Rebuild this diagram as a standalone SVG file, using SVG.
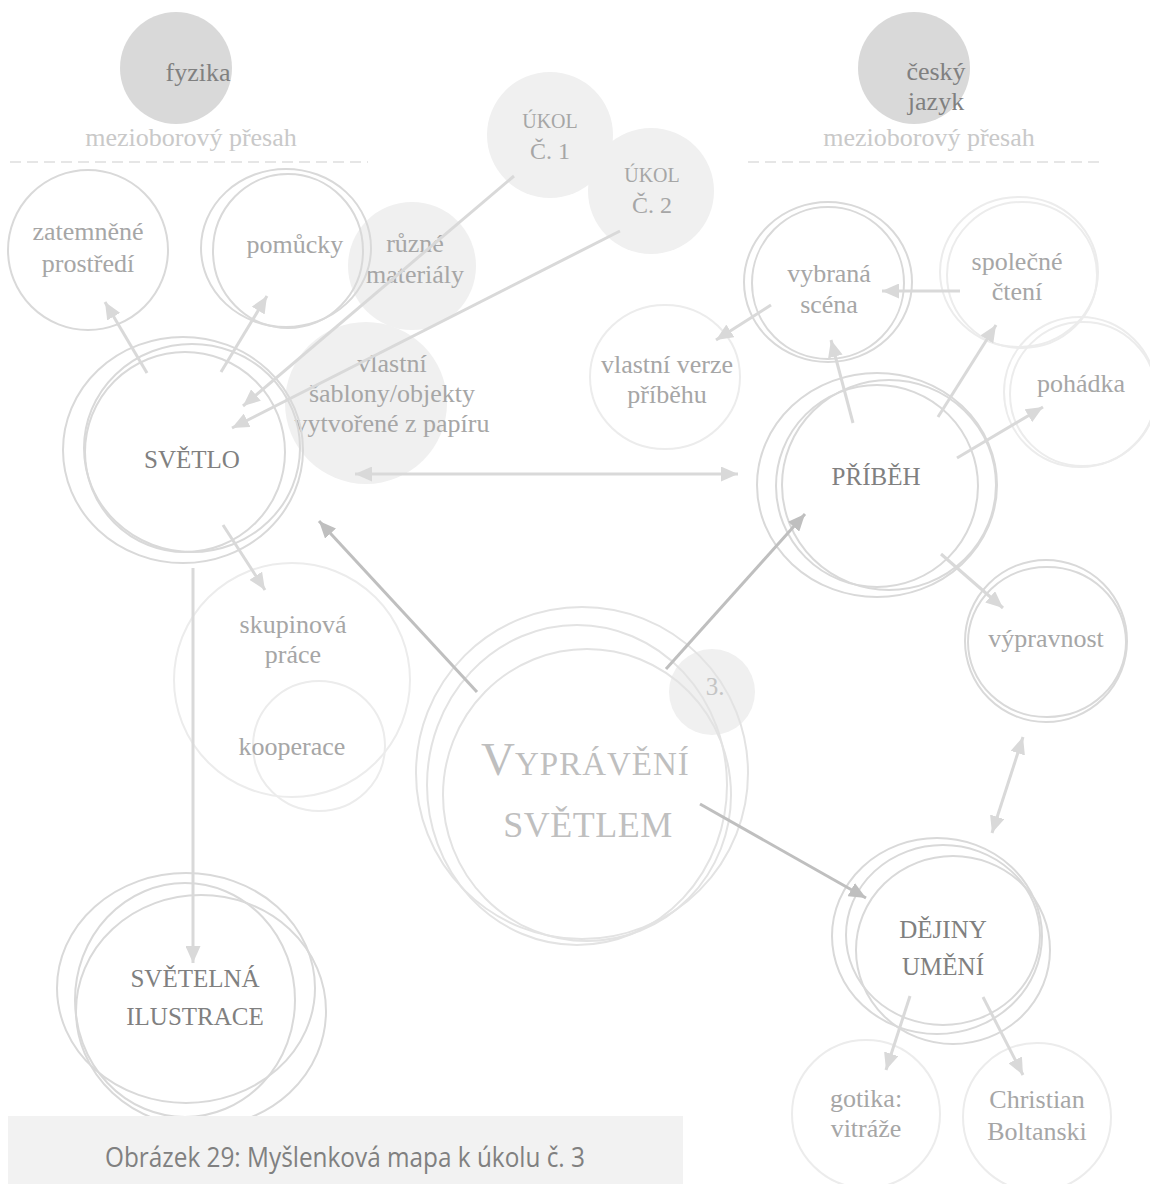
<svg xmlns="http://www.w3.org/2000/svg" width="1150" height="1184" viewBox="0 0 1150 1184">
<defs>
<style>
text{font-family:"Liberation Serif","Times New Roman",serif;text-anchor:middle}
.lbl{font-size:26px;fill:#a6a6a6}
.main{font-size:25px;fill:#808080}
.subj{font-size:26px;fill:#808080}
.mez{font-size:26px;fill:#c9c9c9}
.uk{font-size:20px;fill:#a6a6a6}
.ukn{font-size:24px;fill:#a6a6a6}
.o{fill:none;stroke:#d9d9d9;stroke-width:2}
.ol{fill:none;stroke:#ececec;stroke-width:2}
.oc{fill:none;stroke:#e3e3e3;stroke-width:2}
.fd{fill:#d9d9d9}
.fl{fill:#f0f0f0}
.dash{stroke:#e6e6e6;stroke-width:2;stroke-dasharray:11 6}
.a{stroke:#d9d9d9;stroke-width:3;fill:none;marker-end:url(#ah)}
.a2{stroke:#d9d9d9;stroke-width:3;fill:none;marker-end:url(#ah);marker-start:url(#ah)}
.ad{stroke:#bfbfbf;stroke-width:3;fill:none;marker-end:url(#ahd)}
</style>
<marker id="ah" markerUnits="userSpaceOnUse" markerWidth="17" markerHeight="15" refX="17" refY="7.5" orient="auto-start-reverse">
<path d="M0,0 L17,7.5 L0,15 z" fill="#d9d9d9"/>
</marker>
<marker id="ahd" markerUnits="userSpaceOnUse" markerWidth="17" markerHeight="15" refX="17" refY="7.5" orient="auto-start-reverse">
<path d="M0,0 L17,7.5 L0,15 z" fill="#bfbfbf"/>
</marker>
</defs>
<rect width="1150" height="1184" fill="#ffffff"/>

<!-- header -->
<g id="fyzika">
<circle class="fd" cx="176" cy="68" r="56"/>
<text class="subj" x="198" y="81">fyzika</text>
</g>
<g id="cesky-jazyk">
<circle class="fd" cx="914" cy="68" r="56"/>
<text class="subj" x="936" y="80">český</text>
<text class="subj" x="936" y="110">jazyk</text>
</g>
<g id="presah-left">
<text class="mez" x="191" y="146">mezioborový přesah</text>
<line class="dash" x1="10" y1="162" x2="368" y2="162"/>
</g>
<g id="presah-right">
<text class="mez" x="929" y="146">mezioborový přesah</text>
<line class="dash" x1="748" y1="162" x2="1105" y2="162"/>
</g>

<!-- filled nodes -->
<g id="ukol1">
<circle class="fl" cx="550" cy="135" r="63"/>
<text class="uk" x="550" y="128">ÚKOL</text>
<text class="ukn" x="550" y="159">Č. 1</text>
</g>
<g id="ukol2">
<circle class="fl" cx="651" cy="191" r="63"/>
<text class="uk" x="652" y="182">ÚKOL</text>
<text class="ukn" x="652" y="213">Č. 2</text>
</g>
<g id="ruzne-materialy">
<circle class="fl" cx="412" cy="266" r="64"/>
<text class="lbl" x="415" y="252">různé</text>
<text class="lbl" x="415" y="283">materiály</text>
</g>
<g id="sablony">
<circle class="fl" cx="366" cy="403" r="81"/>
<text class="lbl" x="392" y="372">vlastní</text>
<text class="lbl" x="392" y="402">šablony/objekty</text>
<text class="lbl" x="392" y="432">vytvořené z papíru</text>
</g>
<g id="ukol3">
<circle class="fl" cx="712" cy="692" r="43"/>
<text x="715" y="695" style="font-size:25px;fill:#c4c4c4">3.</text>
</g>

<!-- left side -->
<g id="zatemnene">
<circle class="o" cx="88" cy="250" r="80"/>
<text class="lbl" x="88" y="240">zatemněné</text>
<text class="lbl" x="88" y="272">prostředí</text>
</g>
<g id="pomucky">
<ellipse class="o" cx="286" cy="248" rx="85" ry="79"/>
<ellipse class="o" cx="288" cy="251" rx="75" ry="77"/>
<text class="lbl" x="295" y="253">pomůcky</text>
</g>
<g id="svetlo">
<ellipse class="o" cx="183" cy="450" rx="120" ry="113"/>
<ellipse class="o" cx="192" cy="448" rx="108" ry="104"/>
<ellipse class="o" cx="185" cy="452" rx="100" ry="100"/>
<text class="main" x="192" y="468">SVĚTLO</text>
</g>
<g id="skupinova">
<ellipse class="ol" cx="292" cy="680" rx="118" ry="117"/>
<text class="lbl" x="293" y="633">skupinová</text>
<text class="lbl" x="293" y="663">práce</text>
</g>
<g id="kooperace">
<ellipse class="ol" cx="319" cy="746" rx="66" ry="65"/>
<text class="lbl" x="292" y="755">kooperace</text>
</g>
<g id="svetelna-ilustrace">
<ellipse class="o" cx="186" cy="988" rx="129" ry="115"/>
<ellipse class="o" cx="201" cy="1011" rx="125" ry="116"/>
<ellipse class="o" cx="185" cy="1000" rx="110" ry="117"/>
<text class="main" x="195" y="987">SVĚTELNÁ</text>
<text class="main" x="195" y="1025">ILUSTRACE</text>
</g>

<!-- center -->
<g id="vypraveni">
<ellipse class="oc" cx="582" cy="773" rx="166" ry="166"/>
<ellipse class="oc" cx="577" cy="785" rx="150" ry="160"/>
<ellipse class="oc" cx="587" cy="795" rx="144" ry="146"/>
<text x="481" y="775" style="text-anchor:start;fill:#bfbfbf;font-size:33px;letter-spacing:1px"><tspan style="font-size:47px;letter-spacing:0">V</tspan>YPRÁVĚNÍ</text>
<text x="588" y="837" style="fill:#bfbfbf;font-size:36px;letter-spacing:0.5px">SVĚTLEM</text>
</g>

<!-- right side -->
<g id="vybrana-scena">
<ellipse class="o" cx="828" cy="282" rx="84" ry="80"/>
<ellipse class="o" cx="828" cy="283" rx="76" ry="76"/>
<text class="lbl" x="829" y="282">vybraná</text>
<text class="lbl" x="829" y="313">scéna</text>
</g>
<g id="spolecne-cteni">
<ellipse class="ol" cx="1019" cy="272" rx="79" ry="75"/>
<ellipse class="ol" cx="1022" cy="275" rx="75" ry="73"/>
<text class="lbl" x="1017" y="270">společné</text>
<text class="lbl" x="1017" y="300">čtení</text>
</g>
<g id="pohadka">
<ellipse class="ol" cx="1080" cy="392" rx="76" ry="75"/>
<ellipse class="ol" cx="1083" cy="394" rx="73" ry="72"/>
<text class="lbl" x="1081" y="392">pohádka</text>
</g>
<g id="vlastni-verze">
<ellipse class="ol" cx="665" cy="377" rx="75" ry="72"/>
<text class="lbl" x="667" y="373">vlastní verze</text>
<text class="lbl" x="667" y="403">příběhu</text>
</g>
<g id="pribeh">
<ellipse class="o" cx="877" cy="485" rx="120" ry="112"/>
<ellipse class="o" cx="877" cy="486" rx="101" ry="101"/>
<ellipse class="o" cx="889" cy="485" rx="107" ry="105"/>
<text class="main" x="876" y="485">PŘÍBĚH</text>
</g>
<g id="vypravnost">
<ellipse class="o" cx="1046" cy="641" rx="81" ry="81"/>
<ellipse class="o" cx="1047" cy="642" rx="79" ry="75"/>
<text class="lbl" x="1046" y="647">výpravnost</text>
</g>
<g id="dejiny-umeni">
<ellipse class="o" cx="937" cy="936" rx="105" ry="98"/>
<ellipse class="o" cx="943" cy="935" rx="97" ry="90"/>
<ellipse class="o" cx="953" cy="950" rx="97" ry="94"/>
<text class="main" x="943" y="938">DĚJINY</text>
<text class="main" x="943" y="975">UMĚNÍ</text>
</g>
<g id="gotika">
<circle class="ol" cx="866" cy="1114" r="74"/>
<text class="lbl" x="866" y="1107">gotika:</text>
<text class="lbl" x="866" y="1137">vitráže</text>
</g>
<g id="boltanski">
<circle class="ol" cx="1037" cy="1117" r="74"/>
<text class="lbl" x="1037" y="1108">Christian</text>
<text class="lbl" x="1037" y="1140">Boltanski</text>
</g>

<!-- connectors -->
<g id="connectors">
<line class="a" x1="147" y1="373" x2="105" y2="302"/>
<line class="a" x1="221" y1="372" x2="267" y2="296"/>
<line class="a" x1="514" y1="176" x2="243" y2="406"/>
<line class="a" x1="620" y1="231" x2="232" y2="428"/>
<line class="a2" x1="355" y1="474" x2="738" y2="474"/>
<line class="a" x1="223" y1="525" x2="265" y2="590"/>
<line class="a" x1="193" y1="568" x2="193" y2="963"/>
<line class="ad" x1="477" y1="692" x2="319" y2="521"/>
<line class="ad" x1="666" y1="669" x2="805" y2="514"/>
<line class="ad" x1="700" y1="804" x2="866" y2="898"/>
<line class="a" x1="960" y1="291" x2="882" y2="291"/>
<line class="a" x1="771" y1="305" x2="716" y2="340"/>
<line class="a" x1="853" y1="423" x2="831" y2="340"/>
<line class="a" x1="938" y1="417" x2="996" y2="325"/>
<line class="a" x1="957" y1="458" x2="1043" y2="407"/>
<line class="a" x1="941" y1="554" x2="1003" y2="608"/>
<line class="a2" x1="1023" y1="737" x2="992" y2="833"/>
<line class="a" x1="910" y1="996" x2="886" y2="1070"/>
<line class="a" x1="983" y1="997" x2="1023" y2="1075"/>
</g>

<!-- caption -->
<g id="caption">
<rect x="8" y="1116" width="675" height="68" fill="#f2f2f2"/>
<text x="345" y="1167" textLength="480" lengthAdjust="spacingAndGlyphs" style="font-family:'Open Sans','Noto Sans',sans-serif;font-size:27px;fill:#808080">Obrázek 29: Myšlenková mapa k úkolu č. 3</text>
</g>
</svg>
